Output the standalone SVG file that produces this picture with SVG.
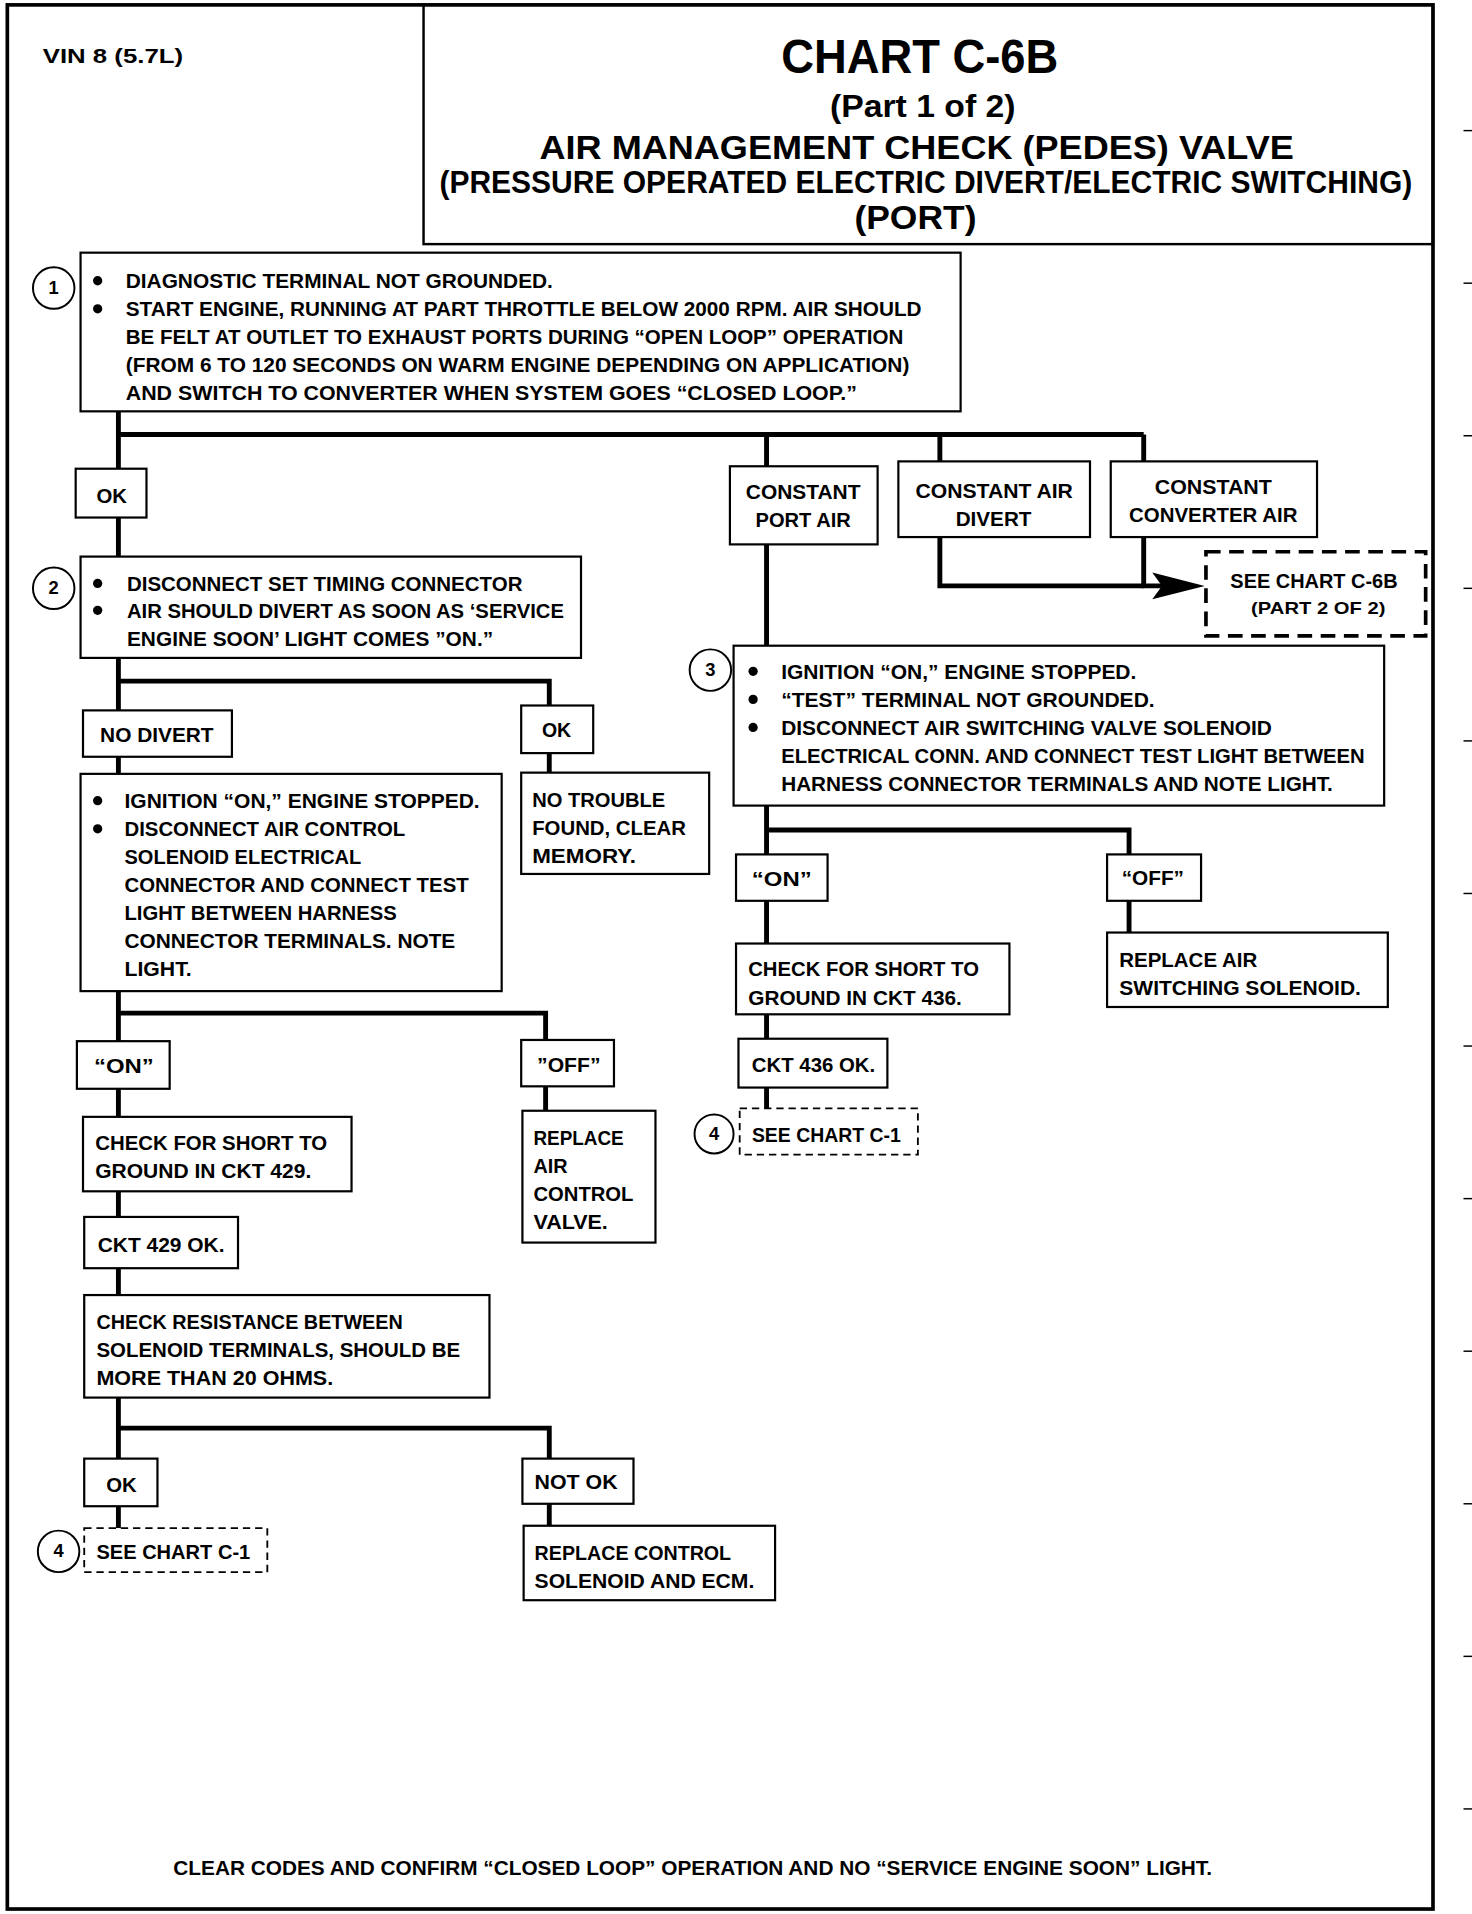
<svg xmlns="http://www.w3.org/2000/svg" width="1472" height="1914" viewBox="0 0 1472 1914">
<defs>
<style>
.b{fill:#fff;stroke:#000;stroke-width:1.8}
.d{fill:#fff;stroke:#000;stroke-width:1.5;stroke-dasharray:6 4}
.dt{fill:#fff;stroke:#000;stroke-width:3;stroke-dasharray:12 7}
.t{font-family:"Liberation Sans",Arial,sans-serif;font-weight:bold;font-size:16px;fill:#000}
.n{font-family:"Liberation Sans",Arial,sans-serif;font-weight:bold;font-size:15px;fill:#000;text-anchor:middle}
.c{fill:#fff;stroke:#000;stroke-width:1.6}
.bu{fill:#000}
.k{fill:none;stroke:#000;stroke-width:4}
.ah{fill:#000}
.tk{stroke:#000;stroke-width:1.2}
</style>
</defs>
<rect width="1472" height="1914" fill="#fff"/>
<g transform="scale(1.2206)">
<g id="frame">
<rect x="6" y="4" width="1168" height="1560" fill="none" stroke="#000" stroke-width="3"/>
<line class="tk" x1="1199" y1="107" x2="1206" y2="107"/>
<line class="tk" x1="1199" y1="232" x2="1206" y2="232"/>
<line class="tk" x1="1199" y1="357" x2="1206" y2="357"/>
<line class="tk" x1="1199" y1="482" x2="1206" y2="482"/>
<line class="tk" x1="1199" y1="607" x2="1206" y2="607"/>
<line class="tk" x1="1199" y1="732" x2="1206" y2="732"/>
<line class="tk" x1="1199" y1="857" x2="1206" y2="857"/>
<line class="tk" x1="1199" y1="982" x2="1206" y2="982"/>
<line class="tk" x1="1199" y1="1107" x2="1206" y2="1107"/>
<line class="tk" x1="1199" y1="1232" x2="1206" y2="1232"/>
<line class="tk" x1="1199" y1="1357" x2="1206" y2="1357"/>
<line class="tk" x1="1199" y1="1482" x2="1206" y2="1482"/>
</g>
<g id="title">
<rect x="347" y="4" width="827" height="196" fill="none" stroke="#000" stroke-width="2"/>
<text class="t" x="640" y="60" style="font-size:40px" textLength="227" lengthAdjust="spacingAndGlyphs">CHART C-6B</text>
<text class="t" x="680" y="96" style="font-size:25px" textLength="152" lengthAdjust="spacingAndGlyphs">(Part 1 of 2)</text>
<text class="t" x="442" y="130" style="font-size:27px" textLength="618" lengthAdjust="spacingAndGlyphs">AIR MANAGEMENT CHECK (PEDES) VALVE</text>
<text class="t" x="360" y="158" style="font-size:25px" textLength="797" lengthAdjust="spacingAndGlyphs">(PRESSURE OPERATED ELECTRIC DIVERT/ELECTRIC SWITCHING)</text>
<text class="t" x="700" y="188" style="font-size:27px" textLength="100" lengthAdjust="spacingAndGlyphs">(PORT)</text>
</g>
<text class="t" x="35" y="52" textLength="115" lengthAdjust="spacingAndGlyphs">VIN 8 (5.7L)</text>

<g id="connectors">
<path class="k" d="M97 337 V384"/>
<path class="k" d="M97 356 H937"/>
<path class="k" d="M628 356 V382"/>
<path class="k" d="M770 356 V378"/>
<path class="k" d="M937 356 V378"/>
<path class="k" d="M97 424 V456"/>
<path class="k" d="M770 440 V480 H937"/>
<path class="k" d="M937 440 V480 H955"/>
<polygon class="ah" points="944,469 987,480 944,491 952,480"/>
<path class="k" d="M628 446 V529"/>
<path class="k" d="M97 539 V582"/>
<path class="k" d="M97 558 H450 V578"/>
<path class="k" d="M450 617 V633"/>
<path class="k" d="M97 620 V634"/>
<path class="k" d="M97 812 V853"/>
<path class="k" d="M97 830 H447 V852"/>
<path class="k" d="M447 890 V910"/>
<path class="k" d="M97 892 V915"/>
<path class="k" d="M97 976 V997"/>
<path class="k" d="M97 1039 V1061"/>
<path class="k" d="M97 1145 V1195"/>
<path class="k" d="M97 1170 H450 V1195"/>
<path class="k" d="M450 1232 V1250"/>
<path class="k" d="M97 1234 V1252"/>
<path class="k" d="M628 660 V700"/>
<path class="k" d="M628 680 H925 V700"/>
<path class="k" d="M925 738 V764"/>
<path class="k" d="M628 738 V773"/>
<path class="k" d="M628 831 V851"/>
<path class="k" d="M628 891 V908"/>
</g>

<g id="n1">
<rect class="b" x="66" y="207" width="721" height="130"/>
<circle class="c" cx="44" cy="236" r="17"/>
<text class="n" x="44" y="241">1</text>
<circle class="bu" cx="80" cy="230" r="3.8"/>
<circle class="bu" cx="80" cy="253" r="3.8"/>
<text class="t" x="103" y="236" textLength="350" lengthAdjust="spacingAndGlyphs">DIAGNOSTIC TERMINAL NOT GROUNDED.</text>
<text class="t" x="103" y="259" textLength="652" lengthAdjust="spacingAndGlyphs">START ENGINE, RUNNING AT PART THROTTLE BELOW 2000 RPM.  AIR SHOULD</text>
<text class="t" x="103" y="282" textLength="637" lengthAdjust="spacingAndGlyphs">BE FELT AT OUTLET TO EXHAUST PORTS DURING “OPEN LOOP” OPERATION</text>
<text class="t" x="103" y="305" textLength="642" lengthAdjust="spacingAndGlyphs">(FROM 6 TO 120 SECONDS ON WARM ENGINE DEPENDING ON APPLICATION)</text>
<text class="t" x="103" y="328" textLength="599" lengthAdjust="spacingAndGlyphs">AND SWITCH TO CONVERTER WHEN SYSTEM GOES “CLOSED LOOP.”</text>
</g>

<g id="ok1">
<rect class="b" x="62" y="384" width="58" height="40"/>
<text class="t" x="79" y="412" textLength="25" lengthAdjust="spacingAndGlyphs">OK</text>
</g>

<g id="portair">
<rect class="b" x="598" y="382" width="121" height="64"/>
<text class="t" x="611" y="409" textLength="94" lengthAdjust="spacingAndGlyphs">CONSTANT</text>
<text class="t" x="619" y="432" textLength="78" lengthAdjust="spacingAndGlyphs">PORT AIR</text>
</g>
<g id="airdivert">
<rect class="b" x="736" y="378" width="157" height="62"/>
<text class="t" x="750" y="408" textLength="129" lengthAdjust="spacingAndGlyphs">CONSTANT AIR</text>
<text class="t" x="783" y="431" textLength="62" lengthAdjust="spacingAndGlyphs">DIVERT</text>
</g>
<g id="convair">
<rect class="b" x="910" y="378" width="169" height="62"/>
<text class="t" x="946" y="405" textLength="96" lengthAdjust="spacingAndGlyphs">CONSTANT</text>
<text class="t" x="925" y="428" textLength="138" lengthAdjust="spacingAndGlyphs">CONVERTER AIR</text>
</g>
<g id="seec6b">
<rect class="dt" x="988" y="452" width="180" height="69"/>
<text class="t" x="1008" y="482" textLength="137" lengthAdjust="spacingAndGlyphs">SEE CHART C-6B</text>
<text class="t" x="1025" y="503" style="font-size:13px" textLength="110" lengthAdjust="spacingAndGlyphs">(PART 2  OF 2)</text>
</g>

<g id="n2">
<rect class="b" x="66" y="456" width="410" height="83"/>
<circle class="c" cx="44" cy="482" r="17"/>
<text class="n" x="44" y="487">2</text>
<circle class="bu" cx="80" cy="478" r="3.8"/>
<circle class="bu" cx="80" cy="500" r="3.8"/>
<text class="t" x="104" y="484" textLength="324" lengthAdjust="spacingAndGlyphs">DISCONNECT SET TIMING CONNECTOR</text>
<text class="t" x="104" y="506" textLength="358" lengthAdjust="spacingAndGlyphs">AIR SHOULD DIVERT AS SOON AS ‘SERVICE</text>
<text class="t" x="104" y="529" textLength="300" lengthAdjust="spacingAndGlyphs">ENGINE SOON’ LIGHT COMES ”ON.”</text>
</g>

<g id="nodivert">
<rect class="b" x="68" y="582" width="122" height="38"/>
<text class="t" x="82" y="608" textLength="93" lengthAdjust="spacingAndGlyphs">NO DIVERT</text>
</g>
<g id="ok2">
<rect class="b" x="427" y="578" width="59" height="39"/>
<text class="t" x="444" y="604" textLength="24" lengthAdjust="spacingAndGlyphs">OK</text>
</g>
<g id="notrouble">
<rect class="b" x="427" y="633" width="154" height="83"/>
<text class="t" x="436" y="661" textLength="109" lengthAdjust="spacingAndGlyphs">NO TROUBLE</text>
<text class="t" x="436" y="684" textLength="126" lengthAdjust="spacingAndGlyphs">FOUND, CLEAR</text>
<text class="t" x="436" y="707" textLength="85" lengthAdjust="spacingAndGlyphs">MEMORY.</text>
</g>

<g id="ign1">
<rect class="b" x="66" y="634" width="345" height="178"/>
<circle class="bu" cx="80" cy="656" r="3.8"/>
<circle class="bu" cx="80" cy="679" r="3.8"/>
<text class="t" x="102" y="662" textLength="291" lengthAdjust="spacingAndGlyphs">IGNITION “ON,” ENGINE STOPPED.</text>
<text class="t" x="102" y="685" textLength="230" lengthAdjust="spacingAndGlyphs">DISCONNECT AIR CONTROL</text>
<text class="t" x="102" y="708" textLength="194" lengthAdjust="spacingAndGlyphs">SOLENOID ELECTRICAL</text>
<text class="t" x="102" y="731" textLength="282" lengthAdjust="spacingAndGlyphs">CONNECTOR AND CONNECT TEST</text>
<text class="t" x="102" y="754" textLength="223" lengthAdjust="spacingAndGlyphs">LIGHT BETWEEN HARNESS</text>
<text class="t" x="102" y="777" textLength="271" lengthAdjust="spacingAndGlyphs">CONNECTOR TERMINALS.  NOTE</text>
<text class="t" x="102" y="800" textLength="55" lengthAdjust="spacingAndGlyphs">LIGHT.</text>
</g>

<g id="on1">
<rect class="b" x="63" y="853" width="76" height="39"/>
<text class="t" x="77" y="879" textLength="49" lengthAdjust="spacingAndGlyphs">“ON”</text>
</g>
<g id="off1">
<rect class="b" x="427" y="852" width="76" height="38"/>
<text class="t" x="440" y="878" textLength="52" lengthAdjust="spacingAndGlyphs">”OFF”</text>
</g>
<g id="replacevalve">
<rect class="b" x="428" y="910" width="109" height="108"/>
<text class="t" x="437" y="938" textLength="74" lengthAdjust="spacingAndGlyphs">REPLACE</text>
<text class="t" x="437" y="961" textLength="28" lengthAdjust="spacingAndGlyphs">AIR</text>
<text class="t" x="437" y="984" textLength="82" lengthAdjust="spacingAndGlyphs">CONTROL</text>
<text class="t" x="437" y="1007" textLength="61" lengthAdjust="spacingAndGlyphs">VALVE.</text>
</g>
<g id="check429">
<rect class="b" x="68" y="915" width="220" height="61"/>
<text class="t" x="78" y="942" textLength="190" lengthAdjust="spacingAndGlyphs">CHECK  FOR SHORT TO</text>
<text class="t" x="78" y="965" textLength="177" lengthAdjust="spacingAndGlyphs">GROUND IN CKT 429.</text>
</g>
<g id="ckt429ok">
<rect class="b" x="69" y="997" width="126" height="42"/>
<text class="t" x="80" y="1026" textLength="104" lengthAdjust="spacingAndGlyphs">CKT 429 OK.</text>
</g>
<g id="resist">
<rect class="b" x="69" y="1061" width="332" height="84"/>
<text class="t" x="79" y="1089" textLength="251" lengthAdjust="spacingAndGlyphs">CHECK RESISTANCE BETWEEN</text>
<text class="t" x="79" y="1112" textLength="298" lengthAdjust="spacingAndGlyphs">SOLENOID TERMINALS, SHOULD BE</text>
<text class="t" x="79" y="1135" textLength="194" lengthAdjust="spacingAndGlyphs">MORE THAN 20 OHMS.</text>
</g>
<g id="ok3">
<rect class="b" x="69" y="1195" width="60" height="39"/>
<text class="t" x="87" y="1222" textLength="25" lengthAdjust="spacingAndGlyphs">OK</text>
</g>
<g id="notok">
<rect class="b" x="428" y="1195" width="91" height="37"/>
<text class="t" x="438" y="1220" textLength="68" lengthAdjust="spacingAndGlyphs">NOT OK</text>
</g>
<g id="replacesol">
<rect class="b" x="429" y="1250" width="206" height="61"/>
<text class="t" x="438" y="1278" textLength="161" lengthAdjust="spacingAndGlyphs">REPLACE CONTROL</text>
<text class="t" x="438" y="1301" textLength="180" lengthAdjust="spacingAndGlyphs">SOLENOID AND ECM.</text>
</g>
<g id="seec1a">
<rect class="d" x="69" y="1252" width="150" height="36"/>
<circle class="c" cx="48" cy="1271" r="17"/>
<text class="n" x="48" y="1276">4</text>
<text class="t" x="79" y="1277" textLength="126" lengthAdjust="spacingAndGlyphs">SEE CHART C-1</text>
</g>

<g id="n3">
<rect class="b" x="601" y="529" width="533" height="131"/>
<circle class="c" cx="582" cy="549" r="17"/>
<text class="n" x="582" y="554">3</text>
<circle class="bu" cx="617" cy="550" r="3.8"/>
<circle class="bu" cx="617" cy="573" r="3.8"/>
<circle class="bu" cx="617" cy="596" r="3.8"/>
<text class="t" x="640" y="556" textLength="291" lengthAdjust="spacingAndGlyphs">IGNITION “ON,” ENGINE STOPPED.</text>
<text class="t" x="640" y="579" textLength="306" lengthAdjust="spacingAndGlyphs">“TEST” TERMINAL NOT GROUNDED.</text>
<text class="t" x="640" y="602" textLength="402" lengthAdjust="spacingAndGlyphs">DISCONNECT AIR SWITCHING VALVE SOLENOID</text>
<text class="t" x="640" y="625" textLength="478" lengthAdjust="spacingAndGlyphs">ELECTRICAL CONN. AND CONNECT TEST LIGHT BETWEEN</text>
<text class="t" x="640" y="648" textLength="452" lengthAdjust="spacingAndGlyphs">HARNESS CONNECTOR TERMINALS AND NOTE LIGHT.</text>
</g>
<g id="on2">
<rect class="b" x="603" y="700" width="75" height="38"/>
<text class="t" x="616" y="726" textLength="49" lengthAdjust="spacingAndGlyphs">“ON”</text>
</g>
<g id="off2">
<rect class="b" x="907" y="700" width="77" height="38"/>
<text class="t" x="919" y="725" textLength="51" lengthAdjust="spacingAndGlyphs">“OFF”</text>
</g>
<g id="replacesw">
<rect class="b" x="907" y="764" width="230" height="61"/>
<text class="t" x="917" y="792" textLength="113" lengthAdjust="spacingAndGlyphs">REPLACE  AIR</text>
<text class="t" x="917" y="815" textLength="198" lengthAdjust="spacingAndGlyphs">SWITCHING SOLENOID.</text>
</g>
<g id="check436">
<rect class="b" x="603" y="773" width="224" height="58"/>
<text class="t" x="613" y="800" textLength="189" lengthAdjust="spacingAndGlyphs">CHECK  FOR SHORT TO</text>
<text class="t" x="613" y="823" textLength="175" lengthAdjust="spacingAndGlyphs">GROUND IN CKT 436.</text>
</g>
<g id="ckt436ok">
<rect class="b" x="605" y="851" width="122" height="40"/>
<text class="t" x="616" y="878" textLength="101" lengthAdjust="spacingAndGlyphs">CKT 436 OK.</text>
</g>
<g id="seec1b">
<rect class="d" x="606" y="908" width="146" height="38"/>
<circle class="c" cx="585" cy="929" r="16"/>
<text class="n" x="585" y="934">4</text>
<text class="t" x="616" y="936" textLength="122" lengthAdjust="spacingAndGlyphs">SEE CHART C-1</text>
</g>

<text class="t" x="142" y="1536" textLength="851" lengthAdjust="spacingAndGlyphs">CLEAR CODES AND CONFIRM “CLOSED LOOP”  OPERATION AND NO “SERVICE ENGINE SOON” LIGHT.</text>
</g>
</svg>
